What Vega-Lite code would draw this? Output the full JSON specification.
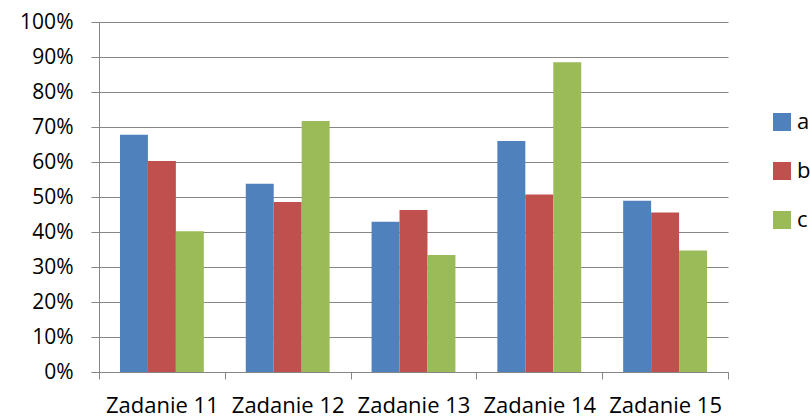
{
  "$schema": "https://vega.github.io/schema/vega-lite/v6.json",
  "autosize": "none",
  "width": 629,
  "height": 350,
  "padding": {"left": 99, "top": 22, "right": 82, "bottom": 45},
  "background": "white",
  "data": {
    "values": [
      {"task": "Zadanie 11", "series": "a", "value": 0.678},
      {"task": "Zadanie 11", "series": "b", "value": 0.603},
      {"task": "Zadanie 11", "series": "c", "value": 0.402},
      {"task": "Zadanie 12", "series": "a", "value": 0.538},
      {"task": "Zadanie 12", "series": "b", "value": 0.486},
      {"task": "Zadanie 12", "series": "c", "value": 0.717},
      {"task": "Zadanie 13", "series": "a", "value": 0.429},
      {"task": "Zadanie 13", "series": "b", "value": 0.463},
      {"task": "Zadanie 13", "series": "c", "value": 0.334},
      {"task": "Zadanie 14", "series": "a", "value": 0.660},
      {"task": "Zadanie 14", "series": "b", "value": 0.507},
      {"task": "Zadanie 14", "series": "c", "value": 0.885},
      {"task": "Zadanie 15", "series": "a", "value": 0.489},
      {"task": "Zadanie 15", "series": "b", "value": 0.456},
      {"task": "Zadanie 15", "series": "c", "value": 0.347}
    ]
  },
  "mark": {"type": "bar"},
  "encoding": {
    "x": {
      "field": "task",
      "type": "nominal",
      "title": null,
      "scale": {"paddingInner": 0, "paddingOuter": 0},
      "axis": {
        "labelAngle": 0,
        "labelFont": "Open Sans",
        "labelFontSize": 22,
        "labelColor": "#000000",
        "labelPadding": 16,
        "tickBand": "extent",
        "tickSize": 7,
        "tickColor": "#868686",
        "domainColor": "#868686",
        "grid": false
      }
    },
    "xOffset": {
      "field": "series",
      "type": "nominal",
      "sort": ["a", "b", "c"],
      "scale": {"paddingInner": 0, "paddingOuter": 0.75}
    },
    "y": {
      "field": "value",
      "type": "quantitative",
      "title": null,
      "scale": {"domain": [0, 1], "nice": false},
      "axis": {
        "format": ".0%",
        "values": [0, 0.1, 0.2, 0.3, 0.4, 0.5, 0.6, 0.7, 0.8, 0.9, 1],
        "labelFont": "Open Sans",
        "labelFontSize": 21,
        "labelColor": "#000000",
        "labelPadding": 18,
        "tickSize": 8,
        "tickColor": "#868686",
        "domainColor": "#868686",
        "gridColor": "#868686",
        "gridWidth": 1
      }
    },
    "color": {
      "field": "series",
      "type": "nominal",
      "sort": ["a", "b", "c"],
      "scale": {"domain": ["a", "b", "c"], "range": ["#4F81BD", "#C0504D", "#9BBB59"]},
      "legend": {
        "title": null,
        "orient": "none",
        "legendX": 672,
        "legendY": 89,
        "symbolType": "square",
        "symbolSize": 324,
        "symbolStrokeWidth": 0,
        "labelFont": "Open Sans",
        "labelFontSize": 22,
        "labelColor": "#000000",
        "labelOffset": 4,
        "rowPadding": 27,
        "padding": 0
      }
    }
  },
  "config": {"view": {"stroke": null}}
}
